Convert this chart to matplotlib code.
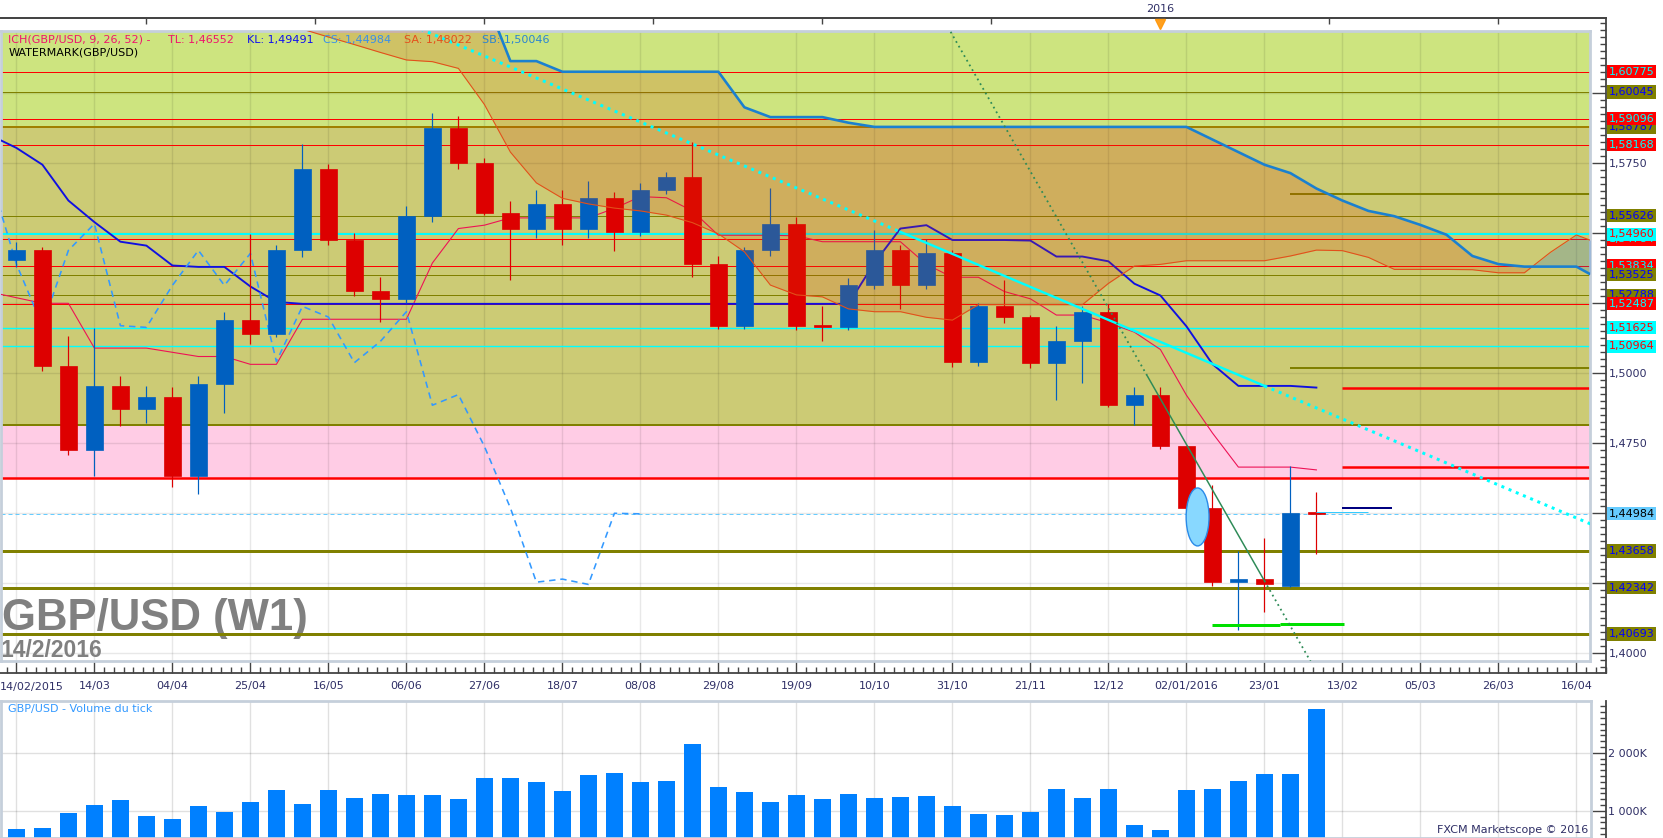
import matplotlib
matplotlib.use("Agg")
import matplotlib.pyplot as plt
from matplotlib.patches import Rectangle, Ellipse
from matplotlib.ticker import MultipleLocator, FixedLocator, FuncFormatter, NullFormatter
from matplotlib.transforms import blended_transform_factory as blend

plt.rcParams['font.family'] = ['DejaVu Sans']

# ------------------------------------------------------------------ data
# week 0 = week of 22/02/2015 (weekly candles GBP/USD)
weeks = list(range(51))
opens = [1.5405, 1.5439, 1.5027, 1.4727, 1.4955, 1.4871, 1.4917, 1.4633, 1.4962, 1.5189,
         1.5140, 1.5439, 1.5731, 1.5477, 1.5295, 1.5265, 1.5561, 1.5875, 1.5750, 1.5572,
         1.5515, 1.5606, 1.5515, 1.5625, 1.5504, 1.5655, 1.5701, 1.5390, 1.5170, 1.5439,
         1.5534, 1.5170, 1.5164, 1.5314, 1.5439, 1.5314, 1.5428, 1.5042, 1.5239, 1.5201,
         1.5038, 1.5114, 1.5220, 1.4886, 1.4924, 1.4739, 1.4519, 1.4254, 1.4265, 1.4242,
         1.4502]
closes = [1.5439, 1.5027, 1.4727, 1.4955, 1.4871, 1.4917, 1.4633, 1.4962, 1.5189, 1.5140,
          1.5439, 1.5731, 1.5477, 1.5295, 1.5265, 1.5561, 1.5875, 1.5750, 1.5572, 1.5515,
          1.5606, 1.5515, 1.5625, 1.5504, 1.5655, 1.5701, 1.5390, 1.5170, 1.5439, 1.5534,
          1.5170, 1.5164, 1.5314, 1.5439, 1.5314, 1.5428, 1.5042, 1.5239, 1.5201, 1.5038,
          1.5114, 1.5220, 1.4886, 1.4924, 1.4739, 1.4519, 1.4254, 1.4265, 1.4246, 1.4500,
          1.4498]
highs = [1.5470, 1.5450, 1.5133, 1.5163, 1.4992, 1.4955, 1.4950, 1.4990, 1.5220, 1.5496,
         1.5460, 1.5818, 1.5746, 1.5500, 1.5345, 1.5598, 1.5928, 1.5920, 1.5769, 1.5617,
         1.5655, 1.5655, 1.5686, 1.5648, 1.5680, 1.5720, 1.5826, 1.5420, 1.5450, 1.5663,
         1.5560, 1.5239, 1.5340, 1.5511, 1.5460, 1.5480, 1.5440, 1.5250, 1.5333, 1.5210,
         1.5170, 1.5240, 1.5246, 1.4950, 1.4950, 1.4740, 1.4602, 1.4367, 1.4413, 1.4670,
         1.4576]
lows = [1.5380, 1.5010, 1.4708, 1.4633, 1.4811, 1.4822, 1.4595, 1.4568, 1.4860, 1.5106,
        1.5130, 1.5417, 1.5458, 1.5277, 1.5182, 1.5250, 1.5540, 1.5730, 1.5565, 1.5333,
        1.5485, 1.5458, 1.5485, 1.5436, 1.5490, 1.5640, 1.5345, 1.5160, 1.5160, 1.5420,
        1.5155, 1.5114, 1.5155, 1.5300, 1.5231, 1.5300, 1.5023, 1.5025, 1.5180, 1.5020,
        1.4905, 1.4966, 1.4880, 1.4814, 1.4730, 1.4510, 1.4240, 1.4083, 1.4148, 1.4236,
        1.4356]
volume_k = [685, 707, 960, 1098, 1184, 908, 857, 1081, 978, 1150,
            1357, 1115, 1357, 1219, 1288, 1270, 1270, 1201, 1570, 1560,
            1503, 1347, 1607, 1642, 1503, 1520, 2145, 1416, 1329, 1156,
            1277, 1208, 1295, 1225, 1243, 1260, 1087, 948, 931, 983,
            1382, 1225, 1368, 754, 669, 1354, 1371, 1509, 1629, 1629,
            2760]

# Ichimoku lines (weeks -1 .. 50)
ichi_weeks = list(range(-1, 51))
tenkan = [1.5290, 1.5270, 1.5250, 1.5250, 1.5090, 1.5090, 1.5090, 1.5075, 1.5060, 1.5060,
          1.5032, 1.5032, 1.5193, 1.5193, 1.5193, 1.5193, 1.5193, 1.5394, 1.5517, 1.5529,
          1.5555, 1.5555, 1.5555, 1.5555, 1.5589, 1.5631, 1.5627, 1.5580, 1.5493, 1.5493,
          1.5493, 1.5491, 1.5470, 1.5470, 1.5470, 1.5470, 1.5389, 1.5343, 1.5343, 1.5292,
          1.5266, 1.5208, 1.5208, 1.5180, 1.5147, 1.5085, 1.4922, 1.4787, 1.4665, 1.4665,
          1.4665, 1.4655]
kijun = [1.5850, 1.5805, 1.5745, 1.5617, 1.5540, 1.5470, 1.5456, 1.5385, 1.5380, 1.5380,
         1.5310, 1.5255, 1.5248, 1.5248, 1.5248, 1.5248, 1.5248, 1.5248, 1.5248, 1.5248,
         1.5248, 1.5248, 1.5248, 1.5248, 1.5248, 1.5248, 1.5248, 1.5248, 1.5248, 1.5248,
         1.5248, 1.5248, 1.5248, 1.5248, 1.5394, 1.5517, 1.5529, 1.5476, 1.5476, 1.5476,
         1.5474, 1.5417, 1.5417, 1.5400, 1.5320, 1.5278, 1.5168, 1.5033, 1.4955, 1.4955,
         1.4955, 1.4949]
# Chikou span (weeks -1 .. 24)
chikou_weeks = list(range(-1, 25))
chikou = [1.5701, 1.5390, 1.5170, 1.5439, 1.5534, 1.5170, 1.5164, 1.5314, 1.5439, 1.5314,
          1.5428, 1.5042, 1.5239, 1.5201, 1.5038, 1.5114, 1.5220, 1.4886, 1.4924, 1.4739,
          1.4519, 1.4254, 1.4265, 1.4246, 1.4500, 1.4498]
# Senkou spans as plotted (weeks -1 .. 61)
cloud_weeks = list(range(-1, 62))
senkou_a = [1.6680, 1.6640, 1.6600, 1.6560, 1.6520, 1.6480, 1.6440, 1.6400, 1.6360, 1.6320,
            1.6280, 1.6255, 1.6229, 1.6201, 1.6174, 1.6146, 1.6119, 1.6113, 1.6089, 1.5960,
            1.5790, 1.5680, 1.5625, 1.5605, 1.5590, 1.5580, 1.5565, 1.5538, 1.5498, 1.5434,
            1.5315, 1.5280, 1.5273, 1.5230, 1.5220, 1.5220, 1.5200, 1.5190, 1.5245, 1.5245,
            1.5245, 1.5245, 1.5245, 1.5321, 1.5383, 1.5389, 1.5402, 1.5402, 1.5402, 1.5402,
            1.5419, 1.5440, 1.5438, 1.5414, 1.5371, 1.5371, 1.5371, 1.5370, 1.5359, 1.5359,
            1.5432, 1.5494, 1.5459]
senkou_b = [1.6680, 1.6660, 1.6640, 1.6620, 1.6600, 1.6580, 1.6560, 1.6550, 1.6540, 1.6530,
            1.6520, 1.6510, 1.6500, 1.6490, 1.6480, 1.6470, 1.6460, 1.6450, 1.6440, 1.6350,
            1.6115, 1.6115, 1.6077, 1.6077, 1.6077, 1.6077, 1.6077, 1.6077, 1.6077, 1.5950,
            1.5915, 1.5915, 1.5915, 1.5895, 1.5880, 1.5880, 1.5880, 1.5880, 1.5880, 1.5880,
            1.5880, 1.5880, 1.5880, 1.5880, 1.5880, 1.5880, 1.5880, 1.5835, 1.5790, 1.5745,
            1.5715, 1.5660, 1.5617, 1.5580, 1.5561, 1.5530, 1.5495, 1.5419, 1.5390, 1.5381,
            1.5381, 1.5381, 1.5330]

legend_parts = ["ICH(GBP/USD, 9, 26, 52) -", "TL: 1,46552", "KL: 1,49491",
                "CS: 1,44984", "SA: 1,48022", "SB: 1,50046"]
xtick_labels = ["14/03", "04/04", "25/04", "16/05", "06/06", "27/06", "18/07", "08/08",
                "29/08", "19/09", "10/10", "31/10", "21/11", "12/12", "02/01/2016",
                "23/01", "13/02", "05/03", "26/03", "16/04"]
first_date_label = "14/02/2015"
year_marker = ("2016", 44.0)

# background zones (price bands)
zone_green = (1.5879, 1.6400)
zone_olive = (1.4815, 1.5879)
zone_pink = (1.4627, 1.4815)

# full-width horizontal levels: price, kind
levels = [(1.60775, "red"), (1.60045, "olive"), (1.59096, "red"), (1.58787, "olive"),
          (1.58168, "red"), (1.55626, "olive"), (1.54960, "cyanthick"), (1.54784, "red"),
          (1.53834, "red"), (1.53525, "olive"), (1.52788, "olive"), (1.52487, "red"),
          (1.51625, "cyan"), (1.50964, "cyan"), (1.46270, "redthick"),
          (1.44984, "price"), (1.43658, "olivethick"), (1.42342, "olivethick"),
          (1.40693, "olivethick")]
# partial levels: price, start week, end week, colour, width(px)
partial_levels = [(1.5641, 49.0, 61.5, "#808000", 2), (1.5020, 49.0, 61.5, "#808000", 2),
                  (1.4949, 51.0, 61.5, "#FF0000", 2.5), (1.4666, 51.0, 61.5, "#FF0000", 2.5),
                  (1.4519, 51.0, 52.9, "#000080", 2), (1.4504, 50.0, 52.0, "#33CCFF", 1),
                  (1.4100, 46.0, 48.6, "#00E000", 3), (1.4105, 48.6, 51.06, "#00E000", 3)]
# right-axis labels: text, price, kind (drawn in this order)
axis_tags = [("1,58787", 1.58787, "olive"), ("1,59096", 1.59096, "red"),
             ("1,60775", 1.60775, "red"), ("1,60045", 1.60045, "olive"),
             ("1,58168", 1.58168, "red"), ("1,55626", 1.55626, "olive"),
             ("1,54784", 1.54784, "red"), ("1,54960", 1.54960, "cyan"),
             ("1,53834", 1.53834, "red"), ("1,53525", 1.53525, "olive"),
             ("1,52788", 1.52788, "olive"), ("1,52487", 1.52487, "red"),
             ("1,51625", 1.51625, "cyan"), ("1,50964", 1.50964, "cyan"),
             ("1,44984", 1.44984, "price"), ("1,43658", 1.43658, "olive"),
             ("1,42342", 1.42342, "olive"), ("1,40693", 1.40693, "olive")]
# trend lines: weeks, prices (dotted outside the two middle anchor points)
cyan_trend_w = [15.0, 34.0, 48.0, 61.0]
cyan_trend_p = [1.6251, 1.5505, 1.4955, 1.4444]
green_trend_w = [35.0, 43.5, 48.0, 49.8]
green_trend_p = [1.6371, 1.4990, 1.4259, 1.3967]
ellipse_mark = (45.43, 1.4487, 0.88, 0.0207)

# ------------------------------------------------------------------ geometry
W, H, DPI = 1663, 838, 100
PX_WEEK, PX_W0 = 26.0, 16.4
PX_UNIT, PX_P15 = 2800.0, 373.3
VPX_K, VPX_1000 = 0.058, 810.7


def frac(l, t, r, b):
    return [l / W, 1 - b / H, (r - l) / W, (b - t) / H]


def xl(l, r):
    return ((l - PX_W0) / PX_WEEK, (r - PX_W0) / PX_WEEK)


def yl(t, b):
    return (1.5 - (b - PX_P15) / PX_UNIT, 1.5 + (PX_P15 - t) / PX_UNIT)


def vyl(t, b):
    return (1000 - (b - VPX_1000) / VPX_K, 1000 + (VPX_1000 - t) / VPX_K)


def pt(px):
    return px * 72.0 / DPI


AXC = "#444444"
LBL = "#2F2F66"
BORDER = "#C5CFDB"

fig = plt.figure(figsize=(W / DPI, H / DPI), dpi=DPI, facecolor="white")

# ---------------- frame (axes lines, ticks, labels) for price panel
axf = fig.add_axes(frac(0, 18.3, 1605.7, 673.3), zorder=0)
axf.set_xlim(*xl(0, 1605.7))
axf.set_ylim(*yl(18.3, 673.3))
axf.set_facecolor("white")
axf.spines["left"].set_visible(False)
for s in ("top", "right", "bottom"):
    axf.spines[s].set_color(AXC)
    axf.spines[s].set_linewidth(1.3)
axf.yaxis.tick_right()
price_ticks = [1.400 + 0.025 * k for k in range(9)]
tag_prices = [p for _, p, _ in axis_tags]


def price_fmt(v, pos):
    if any(abs(v - p) < 0.004 for p in tag_prices):
        return ""
    return f"{v:.4f}".replace(".", ",")


axf.yaxis.set_major_locator(FixedLocator(price_ticks))
axf.yaxis.set_minor_locator(MultipleLocator(0.0025))
axf.yaxis.set_major_formatter(FuncFormatter(price_fmt))
axf.tick_params(axis="y", which="major", direction="in", length=pt(14), width=1,
                color=AXC, labelsize=8, labelcolor=LBL, pad=2, right=True, left=False)
axf.tick_params(axis="y", which="minor", direction="in", length=pt(6), width=1,
                color=AXC, right=True, left=False)
major_x = list(range(0, 61, 3))
axf.xaxis.set_major_locator(FixedLocator(major_x))
axf.xaxis.set_major_formatter(FuncFormatter(
    lambda v, p: "" if int(round(v)) == 0 else xtick_labels[int(round(v)) // 3 - 1]))
axf.xaxis.set_minor_locator(MultipleLocator(0.375))
axf.tick_params(axis="x", which="major", direction="in", length=pt(13), width=1,
                color=AXC, labelsize=8, labelcolor=LBL, pad=5.5)
axf.tick_params(axis="x", which="minor", direction="in", length=pt(6), width=1, color=AXC)
axf.text(0.0, -13.4 / 655.0, first_date_label, transform=axf.transAxes, ha="left",
         va="center", fontsize=8, color=LBL)
sec = axf.secondary_xaxis("top")
sec.set_xticks([5.0 + 6.5 * k for k in range(9)])
sec.xaxis.set_minor_formatter(NullFormatter())
sec.tick_params(direction="in", length=pt(6), width=1, color=AXC, labeltop=False)
sec.spines["top"].set_color(AXC)
sec.spines["top"].set_linewidth(1.3)
# year marker
tr_year = blend(axf.transData, axf.transAxes)
axf.plot([year_marker[1]], [1 - 5.5 / 655.0], marker="v", ms=7, color="#FFA020",
         mec="#FF9A10", transform=tr_year, clip_on=False, zorder=10)
axf.text(year_marker[1], 1 + 9.3 / 655.0, year_marker[0], transform=tr_year, ha="center",
         va="center", fontsize=8, color=LBL)

# ---------------- main price panel
ax = fig.add_axes(frac(1, 31, 1590, 660.7), zorder=2)
ax.set_xlim(*xl(1, 1590))
ax.set_ylim(*yl(31, 660.7))
ax.set_facecolor("white")
for s in ax.spines.values():
    s.set_color(BORDER)
    s.set_linewidth(2)
ax.set_xticks(major_x)
ax.set_yticks(price_ticks)
ax.tick_params(length=0, labelbottom=False, labelleft=False)
ax.set_axisbelow(True)
ax.grid(True, color="black", alpha=0.09, lw=1)

ax.axhspan(*zone_green, color="#CDE47F", zorder=0.1, lw=0)
ax.axhspan(*zone_olive, color="#CCCB75", zorder=0.1, lw=0)
ax.axhspan(*zone_pink, color="#FFCCE5", zorder=0.1, lw=0)

# watermark
ax.text(2 / W, 1 - 630 / H, "GBP/USD (W1)", transform=fig.transFigure, fontsize=31.5,
        fontweight="bold", color="#808080", family="Liberation Sans", va="baseline",
        ha="left", zorder=1.5)
ax.text(1 / W, 1 - 656.5 / H, "14/2/2016", transform=fig.transFigure, fontsize=16.5,
        fontweight="bold", color="#808080", family="Liberation Sans", va="baseline",
        ha="left", zorder=1.5)

# horizontal levels
style = {"red": ("#FF0000", 1.0, "-"), "olive": ("#808000", 1.0, "-"),
         "cyan": ("#00FFFF", 1.4, "-"), "cyanthick": ("#00FFFF", 2.0, "-"),
         "redthick": ("#FF0000", 2.5, "-"),
         "price": ("#66CCFF", 1.0, (0, (4, 3))), "olivethick": ("#808000", 3.0, "-")}
for p, kind in levels:
    c, w, ls = style[kind]
    ax.axhline(p, color=c, lw=pt(w), ls=ls, zorder=2)
ax.axhline(zone_olive[1], color="#A08000", lw=pt(2), zorder=2)
ax.axhline(zone_olive[0], color="#808000", lw=pt(2), zorder=2)
for p, x0, x1, c, w in partial_levels[:4]:
    ax.hlines(p, x0, x1, color=c, lw=pt(w), zorder=2)

# ichimoku lines (under the candles)
ax.plot(ichi_weeks, tenkan, color="#EE1155", lw=pt(1.1), zorder=3)
ax.plot(ichi_weeks, kijun, color="#1010E0", lw=pt(1.9), zorder=3)
ax.plot(chikou_weeks, chikou, color="#3399FF", lw=pt(1.6), dashes=(4, 3), zorder=3)

# candles
up_c, dn_c = "#0060C0", "#DD0000"
for i, o, h, l, c in zip(weeks, opens, highs, lows, closes):
    col = up_c if c >= o else dn_c
    ax.vlines(i, l, h, color=col, lw=pt(1.2), zorder=4)
    bottom = min(o, c)
    height = max(abs(c - o), 0.0007)
    ax.add_patch(Rectangle((i - 0.32, bottom), 0.64, height, facecolor=col,
                           edgecolor=col, lw=0.5, zorder=4.5))

# cloud (translucent, over the candles)
ax.fill_between(cloud_weeks, senkou_a, senkou_b,
                where=[b >= a for a, b in zip(senkou_a, senkou_b)], interpolate=True,
                color="#DC3C00", alpha=0.2, lw=0, zorder=5)
ax.fill_between(cloud_weeks, senkou_a, senkou_b,
                where=[a > b for a, b in zip(senkou_a, senkou_b)], interpolate=True,
                color="#1A6FD0", alpha=0.22, lw=0, zorder=5)
ax.plot(cloud_weeks, senkou_a, color="#E2501A", lw=pt(1.1), zorder=5.5)
ax.plot(cloud_weeks, senkou_b, color="#1A80D0", lw=pt(2.6), zorder=5.5)

# short segments
for p, x0, x1, c, w in partial_levels[4:]:
    ax.hlines(p, x0, x1, color=c, lw=pt(w), zorder=6)

# trend lines
ax.plot(cyan_trend_w[:2], cyan_trend_p[:2], color="#00FFFF", lw=pt(3), ls=(0, (1, 1.6)),
        zorder=6)
ax.plot(cyan_trend_w[1:3], cyan_trend_p[1:3], color="#00FFFF", lw=pt(2.4), zorder=6)
ax.plot(cyan_trend_w[2:], cyan_trend_p[2:], color="#00FFFF", lw=pt(3), ls=(0, (1, 1.6)),
        zorder=6)
ax.plot(green_trend_w[:2], green_trend_p[:2], color="#2E8B57", lw=pt(1.8),
        ls=(0, (1, 2)), zorder=6)
ax.plot(green_trend_w[1:3], green_trend_p[1:3], color="#2E8B57", lw=pt(1.5), zorder=6)
ax.plot(green_trend_w[2:], green_trend_p[2:], color="#2E8B57", lw=pt(1.8),
        ls=(0, (1, 2)), zorder=6)
ex, ey, ew, eh = ellipse_mark
ax.add_patch(Ellipse((ex, ey), ew, eh, angle=0, facecolor="#88D8FF", edgecolor="#2A8AE8",
                     lw=1, zorder=6.5))

# legend text
leg_x = [8.4, 168, 247, 323, 404, 482]
leg_c = ["#F0146E", "#F0146E", "#1010F0", "#3A8FE8", "#E5501B", "#2A84D2"]
for txt, x, c in zip(legend_parts, leg_x, leg_c):
    fig.text(x / W, 1 - 39.5 / H, txt, color=c, fontsize=8, va="center", ha="left",
             zorder=20)
fig.text(8.4 / W, 1 - 52.5 / H, "WATERMARK(GBP/USD)", color="black", fontsize=8,
         va="center", ha="left", zorder=20)

# right axis tags
tag_style = {"red": ("#FF0000", "#00FFFF"), "olive": ("#808000", "#0000FF"),
             "cyan": ("#00FFFF", "#FF0000"), "price": ("#66CCFF", "#000000")}
tr_tag = blend(axf.transAxes, axf.transData)
for k, (txt, p, kind) in enumerate(axis_tags):
    fc, tc = tag_style[kind]
    axf.annotate(txt, xy=(1.0, p), xycoords=tr_tag, xytext=(3, 0),
                 textcoords="offset pixels", ha="left", va="center", fontsize=8,
                 color=tc, annotation_clip=False, zorder=10 + k,
                 bbox=dict(boxstyle="square,pad=0.15", fc=fc, ec="none"))

# ---------------- volume panel
axvf = fig.add_axes(frac(0, 701, 1605.7, 838), zorder=0)
axvf.set_xlim(*xl(0, 1605.7))
axvf.set_ylim(*vyl(701, 838))
for s in ("top", "left", "bottom"):
    axvf.spines[s].set_visible(False)
axvf.spines["right"].set_color(AXC)
axvf.spines["right"].set_linewidth(1.3)
axvf.set_xticks([])
axvf.yaxis.tick_right()
axvf.yaxis.set_major_locator(FixedLocator([1000, 2000]))
axvf.yaxis.set_major_formatter(FuncFormatter(lambda v, p: f"{int(v) // 1000} 000K"))
axvf.yaxis.set_minor_locator(MultipleLocator(100))
axvf.tick_params(axis="y", which="major", direction="in", length=pt(14), width=1,
                 color=AXC, labelsize=8, labelcolor=LBL, pad=2)
axvf.tick_params(axis="y", which="minor", direction="in", length=pt(6), width=1, color=AXC)

axv = fig.add_axes(frac(1, 701, 1590.7, 838), zorder=2)
axv.set_xlim(*xl(1, 1590.7))
axv.set_ylim(*vyl(701, 838))
axv.set_facecolor("white")
for s in axv.spines.values():
    s.set_color(BORDER)
    s.set_linewidth(2)
axv.set_xticks(major_x)
axv.set_yticks([1000, 2000])
axv.tick_params(length=0, labelbottom=False, labelleft=False)
axv.set_axisbelow(True)
axv.grid(True, color="black", alpha=0.12, lw=1)
axv.bar(weeks, volume_k, width=0.65, color="#0080FF", zorder=2)
fig.text(8 / W, 1 - 709 / H, "GBP/USD - Volume du tick", color="#3399FF", fontsize=8,
         va="center", ha="left", zorder=20)
fig.text(1588 / W, 1 - 830 / H, "FXCM Marketscope \u00a9 2016", color=LBL, fontsize=8,
         va="center", ha="right", zorder=20)

fig.savefig("out.png", dpi=DPI, facecolor="white")
